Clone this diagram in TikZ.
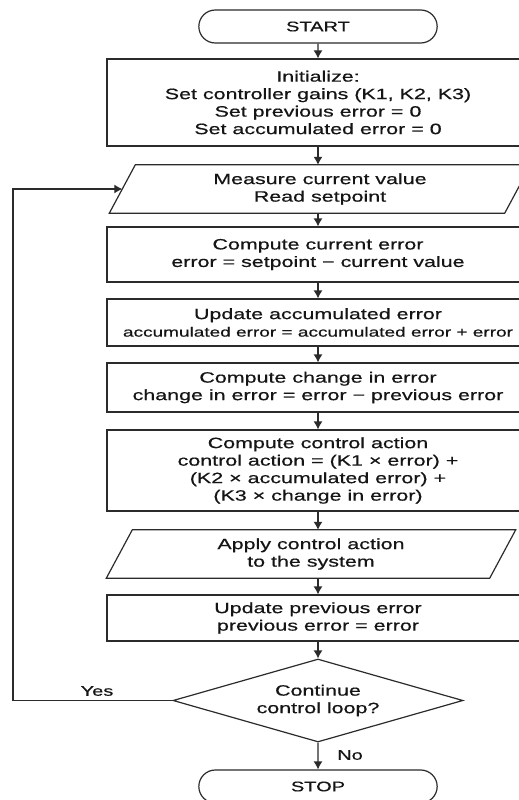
\documentclass[tikz,border=0pt]{standalone}
\usepackage{fontspec}
\setmainfont[FakeStretch=1.43,FakeBold=0.5]{Liberation Sans}
\usetikzlibrary{shapes.geometric,shapes.misc,arrows.meta}

\definecolor{linegray}{HTML}{2B2B2B}
\definecolor{inkblack}{HTML}{151515}

\tikzset{
  every node/.style={text=inkblack, font=\fontsize{15pt}{17.5pt}\selectfont},
  flow/.style={draw=linegray, line width=1.2pt, -{Latex[length=8pt,width=9pt]}},
  procbox/.style={draw=linegray, line width=1.2pt, rectangle, minimum width=422pt, align=center, inner sep=0pt},
  % slanted input/output box, outline drawn from the node's corners
  iobox/.style={rectangle, minimum height=48pt, align=center, inner sep=0pt,
    append after command={\pgfextra{\draw[linegray, line width=1.2pt, line join=miter]
      ([xshift=13pt]\tikzlastnode.north west) -- ([xshift=13pt]\tikzlastnode.north east)
      -- ([xshift=-13pt]\tikzlastnode.south east) -- ([xshift=-13pt]\tikzlastnode.south west) -- cycle;}}},
  termbox/.style={draw=linegray, line width=1.2pt, rounded rectangle, minimum width=245pt, minimum height=33pt,
    font=\fontsize{14pt}{16pt}\selectfont},
  testbox/.style={draw=linegray, line width=1.2pt, diamond, aspect=3.5, minimum width=290pt, minimum height=83pt,
    inner sep=0pt, align=center},
  branch/.style={font=\fontsize{14pt}{16pt}\selectfont}
}

\begin{document}
\begin{tikzpicture}[x=1pt,y=-1pt]
             \useasboundingbox (0,0) rectangle (519,800);
             \clip (0,0) rectangle (519,800);
             \fill[white] (0,0) rectangle (519,800);

             \node[termbox] (start) at (318,26.5) {START};
             \node[procbox, minimum height=87pt] (init) at (318,102.5)
               {Initialize:\\Set controller gains (K1, K2, K3)\\Set previous error = 0\\Set accumulated error = 0};
             \node[iobox, minimum width=395pt] (meas) at (320,189) {Measure current value\\Read setpoint};
             \node[procbox, minimum height=55pt] (err) at (318,254.5)
               {Compute current error\\error = setpoint − current value};
             \node[procbox, minimum height=47pt] (acc) at (318,322.5)
               {Update accumulated error\\{\fontsize{13.3pt}{17pt}\selectfont accumulated error = accumulated error + error}};
             \node[procbox, minimum height=49pt] (chg) at (318,387.5)
               {Compute change in error\\change in error = error − previous error};
             \node[procbox, minimum height=81pt] (act) at (318,470.5)
               {Compute control action\\control action = (K1 × error) +\\(K2 × accumulated error) +\\(K3 × change in error)};
             \node[iobox, minimum width=383pt] (apply) at (311,554) {Apply control action\\to the system};
             \node[procbox, minimum height=46pt] (prev) at (318,618)
               {Update previous error\\previous error = error};
             \node[testbox] (dec) at (318,700.5) {Continue\\control loop?};
             \node[termbox] (stop) at (318,786.5) {STOP};

             \node[branch] (yes) at (97,691) {Yes};
             \node[branch] (no) at (350,755) {No};
             \coordinate (back) at (13,700.5);

             \draw[flow] (start) -- (init);
             \draw[flow] (init.south) -- (init.south |- meas.north);
             \draw[flow] (init.south |- meas.south) -- (err.north);
             \draw[flow] (err) -- (acc);
             \draw[flow] (acc) -- (chg);
             \draw[flow] (chg) -- (act);
             \draw[flow] (act.south) -- (act.south |- apply.north);
             \draw[flow] (act.south |- apply.south) -- (prev.north);
             \draw[flow] (prev) -- (dec);
             \draw[flow] (dec) -- (stop);
             \draw[flow] (dec.west) -- (back) |- (meas.west);
             \end{tikzpicture}
\end{document}
